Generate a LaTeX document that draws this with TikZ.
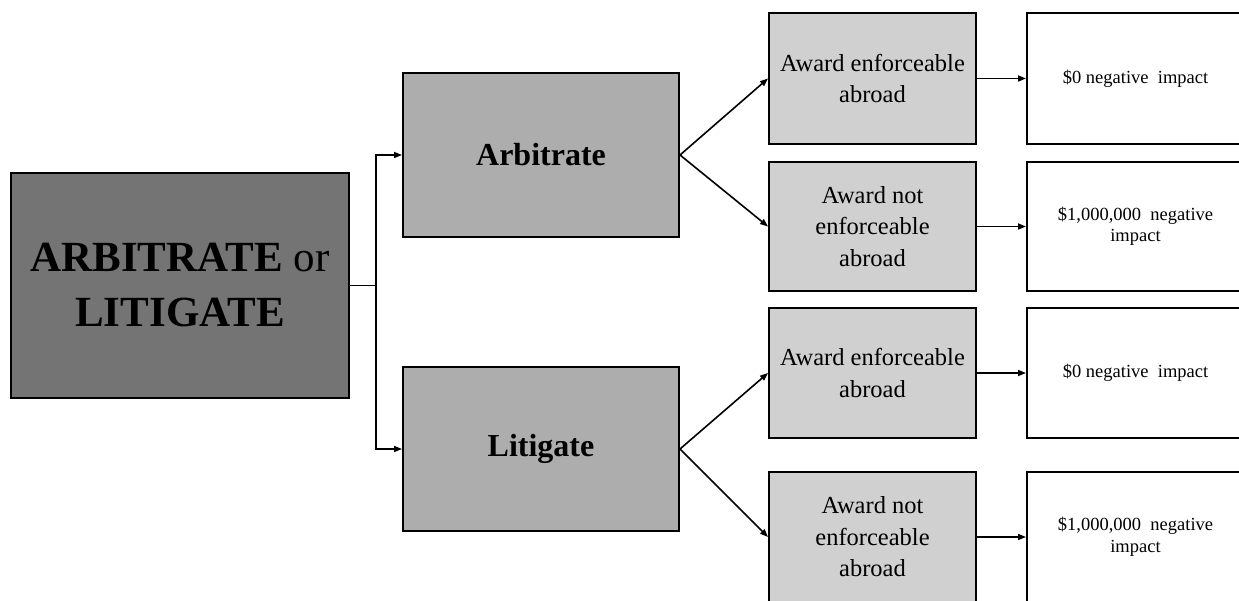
\documentclass[tikz,border=0pt]{standalone}
\usepackage{fontspec}
\setmainfont{Liberation Serif}
\usetikzlibrary{arrows.meta}
\definecolor{dark}{HTML}{747474}
\definecolor{mid}{HTML}{ADADAD}
\definecolor{light}{HTML}{D0D0D0}
\tikzset{
  box/.style={draw=black, line width=2pt, rectangle, inner sep=0pt, align=center},
  mainbox/.style={box, fill=dark, minimum width=338pt, minimum height=225pt,
     font=\fontsize{43}{55}\selectfont},
  choicebox/.style={box, fill=mid, minimum width=276pt, minimum height=164pt,
     font=\fontsize{32}{38}\selectfont\bfseries},
  awardbox/.style={box, fill=light, minimum width=207pt,
     font=\fontsize{24.5}{31.5}\selectfont},
  resultbox/.style={box, fill=white, minimum width=217pt,
     font=\fontsize{18.5}{21.5}\selectfont},
  conn/.style={line width=1.6pt, draw=black},
  arr/.style={conn, -{Triangle[length=8pt,width=6pt]}}
}
\begin{document}
\begin{tikzpicture}[x=1pt,y=-1pt]
\useasboundingbox (0,0) rectangle (1239,601);
\node[mainbox] (main) at (180,285.5) {\textbf{ARBITRATE} or\\\textbf{LITIGATE}};
\node[choicebox] (arb) at (541,155) {Arbitrate};
\node[choicebox] (lit) at (541,449) {Litigate};
\node[awardbox, minimum height=131pt] (a1) at (872.5,78.5) {Award enforceable\\abroad};
\node[awardbox, minimum height=129pt] (a2) at (872.5,226.5) {Award not\\enforceable\\abroad};
\node[awardbox, minimum height=130pt] (a3) at (872.5,373) {Award enforceable\\abroad};
\node[awardbox, minimum height=130pt] (a4) at (872.5,537) {Award not\\enforceable\\abroad};
\node[resultbox, minimum height=131pt] (r1) at (1135.5,78.5) {\$0 negative\ \ impact};
\node[resultbox, minimum height=129pt] (r2) at (1135.5,226.5) {\$1,000,000\ \ negative\\impact};
\node[resultbox, minimum height=130pt] (r3) at (1135.5,373) {\$0 negative\ \ impact};
\node[resultbox, minimum height=130pt] (r4) at (1135.5,537) {\$1,000,000\ \ negative\\impact};
\coordinate (j) at (376,285.5);
\draw[conn] (main.east) -- (j);
\draw[arr] (j) |- (arb.west);
\draw[arr] (j) |- (lit.west);
\draw[arr] (arb.east) -- (a1.west);
\draw[arr] (arb.east) -- (a2.west);
\draw[arr] (lit.east) -- (a3.west);
\draw[arr] (lit.east) -- (a4.west);
\draw[arr] (a1.east) -- (r1.west);
\draw[arr] (a2.east) -- (r2.west);
\draw[arr] (a3.east) -- (r3.west);
\draw[arr] (a4.east) -- (r4.west);
\end{tikzpicture}
\end{document}
